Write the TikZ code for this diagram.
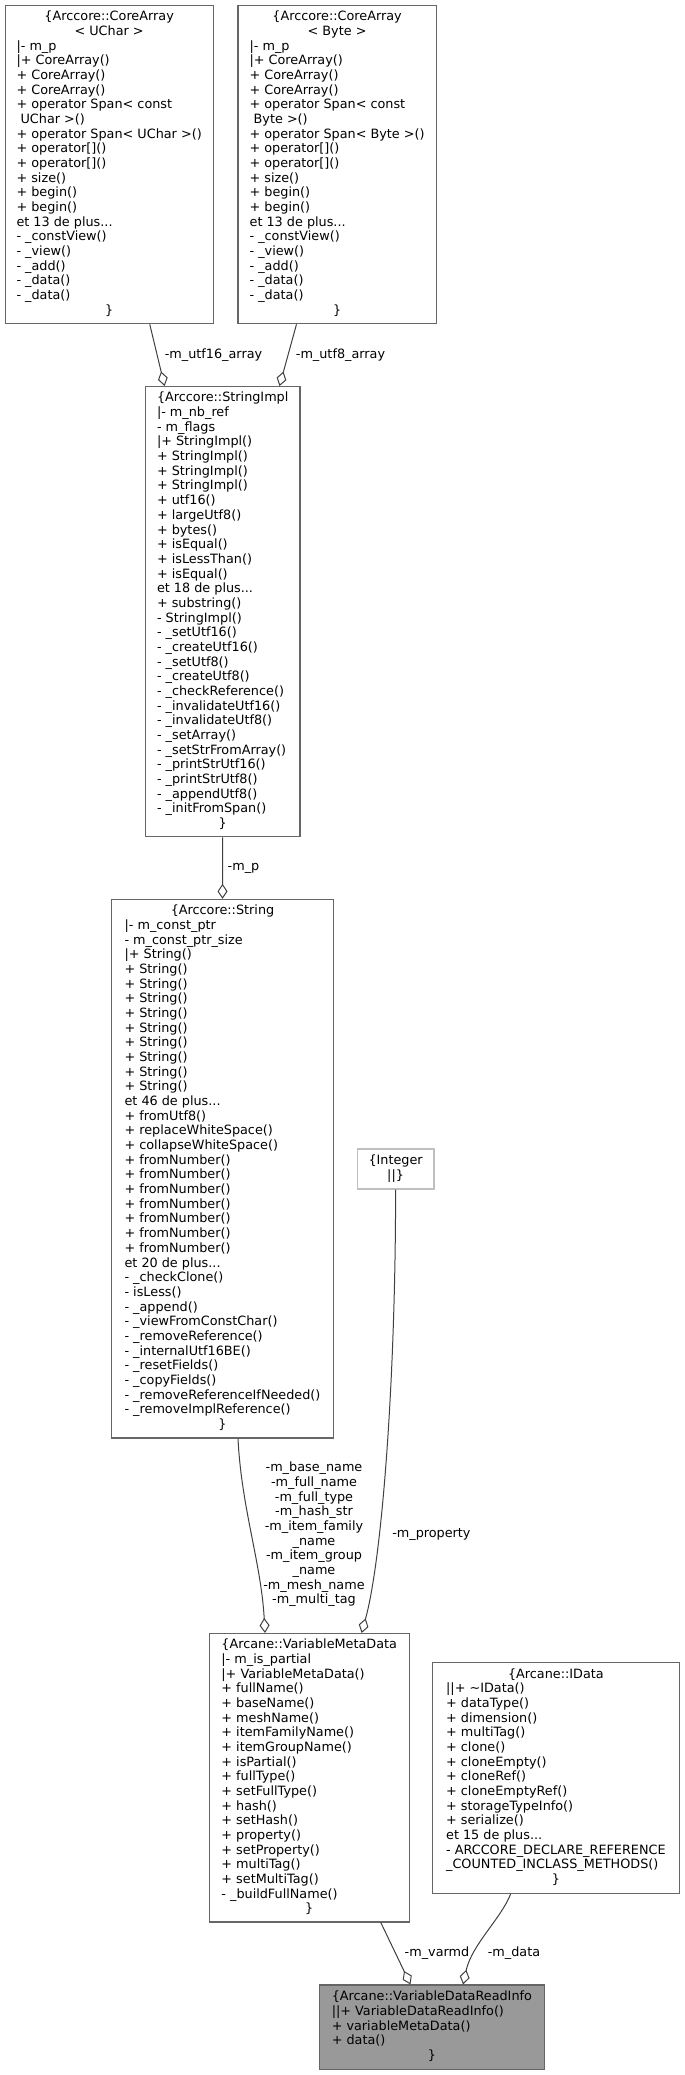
\documentclass[tikz,border=0pt]{standalone}
\usepackage{fontspec}
\setmainfont{DejaVu Sans}
\usetikzlibrary{arrows.meta,calc}
\definecolor{nodeborder}{HTML}{666666}
\definecolor{lightborder}{HTML}{BFBFBF}
\definecolor{edgecol}{HTML}{404040}
\definecolor{mainfill}{HTML}{999999}
\newcommand{\dgfont}{\fontsize{12.8pt}{14.67pt}\selectfont}
\newcommand{\ctrline}[1]{\multicolumn{1}{@{}c@{}}{#1}}
\newcommand{\classrows}[1]{\begin{tabular}{@{}l@{}}#1\end{tabular}}
\tikzset{
  classbox/.style={draw=nodeborder, line width=1.1pt, fill=white, inner sep=0pt, font=\dgfont},
  edgelabel/.style={font=\dgfont, inner sep=0pt, align=center, text=black},
  aggr/.style={draw=edgecol, line width=1pt, -{Diamond[open,length=15pt,width=10pt]}},
}
\begin{document}
\begin{tikzpicture}[x=1pt,y=-1pt]
\useasboundingbox (0,0) rectangle (685,2075);

\node[classbox, minimum width=207.9pt, minimum height=318.3pt] (ua) at (109.15,164.55) {\classrows{%
\ctrline{\{Arccore::CoreArray}\\
\ctrline{< UChar >}\\
|- m\_p\\
|+ CoreArray()\\
+ CoreArray()\\
+ CoreArray()\\
+ operator Span< const\\
\ UChar >()\\
+ operator Span< UChar >()\\
+ operator[]()\\
+ operator[]()\\
+ size()\\
+ begin()\\
+ begin()\\
et 13 de plus...\\
- \_constView()\\
- \_view()\\
- \_add()\\
- \_data()\\
- \_data()\\
\ctrline{\}}}};

\node[classbox, minimum width=198.2pt, minimum height=318.3pt] (ba) at (337.1,164.55) {\classrows{%
\ctrline{\{Arccore::CoreArray}\\
\ctrline{< Byte >}\\
|- m\_p\\
|+ CoreArray()\\
+ CoreArray()\\
+ CoreArray()\\
+ operator Span< const\\
\ Byte >()\\
+ operator Span< Byte >()\\
+ operator[]()\\
+ operator[]()\\
+ size()\\
+ begin()\\
+ begin()\\
et 13 de plus...\\
- \_constView()\\
- \_view()\\
- \_add()\\
- \_data()\\
- \_data()\\
\ctrline{\}}}};

\node[classbox, minimum width=154.6pt, minimum height=450.3pt] (si) at (222.7,611.75) {\classrows{%
\ctrline{\{Arccore::StringImpl}\\
|- m\_nb\_ref\\
- m\_flags\\
|+ StringImpl()\\
+ StringImpl()\\
+ StringImpl()\\
+ StringImpl()\\
+ utf16()\\
+ largeUtf8()\\
+ bytes()\\
+ isEqual()\\
+ isLessThan()\\
+ isEqual()\\
et 18 de plus...\\
+ substring()\\
- StringImpl()\\
- \_setUtf16()\\
- \_createUtf16()\\
- \_setUtf8()\\
- \_createUtf8()\\
- \_checkReference()\\
- \_invalidateUtf16()\\
- \_invalidateUtf8()\\
- \_setArray()\\
- \_setStrFromArray()\\
- \_printStrUtf16()\\
- \_printStrUtf8()\\
- \_appendUtf8()\\
- \_initFromSpan()\\
\ctrline{\}}}};

\node[classbox, minimum width=222.2pt, minimum height=538.6pt] (st) at (222.5,1168.7) {\classrows{%
\ctrline{\{Arccore::String}\\
|- m\_const\_ptr\\
- m\_const\_ptr\_size\\
|+ String()\\
+ String()\\
+ String()\\
+ String()\\
+ String()\\
+ String()\\
+ String()\\
+ String()\\
+ String()\\
+ String()\\
et 46 de plus...\\
+ fromUtf8()\\
+ replaceWhiteSpace()\\
+ collapseWhiteSpace()\\
+ fromNumber()\\
+ fromNumber()\\
+ fromNumber()\\
+ fromNumber()\\
+ fromNumber()\\
+ fromNumber()\\
+ fromNumber()\\
et 20 de plus...\\
- \_checkClone()\\
- isLess()\\
- \_append()\\
- \_viewFromConstChar()\\
- \_removeReference()\\
- \_internalUtf16BE()\\
- \_resetFields()\\
- \_copyFields()\\
- \_removeReferenceIfNeeded()\\
- \_removeImplReference()\\
\ctrline{\}}}};

\node[classbox, draw=lightborder, minimum width=76.8pt, minimum height=40pt] (in) at (395.6,1169) {\classrows{%
\ctrline{\{Integer}\\
\ctrline{||\}}}};

\node[classbox, minimum width=200pt, minimum height=288.5pt] (vmd) at (309.2,1777.75) {\classrows{%
\ctrline{\{Arcane::VariableMetaData}\\
|- m\_is\_partial\\
|+ VariableMetaData()\\
+ fullName()\\
+ baseName()\\
+ meshName()\\
+ itemFamilyName()\\
+ itemGroupName()\\
+ isPartial()\\
+ fullType()\\
+ setFullType()\\
+ hash()\\
+ setHash()\\
+ property()\\
+ setProperty()\\
+ multiTag()\\
+ setMultiTag()\\
- \_buildFullName()\\
\ctrline{\}}}};

\node[classbox, minimum width=247.2pt, minimum height=230.9pt] (id) at (555.9,1777.85) {\classrows{%
\ctrline{\{Arcane::IData}\\
||+ \textasciitilde IData()\\
+ dataType()\\
+ dimension()\\
+ multiTag()\\
+ clone()\\
+ cloneEmpty()\\
+ cloneRef()\\
+ cloneEmptyRef()\\
+ storageTypeInfo()\\
+ serialize()\\
et 15 de plus...\\
- ARCCORE\_DECLARE\_REFERENCE\\
\_COUNTED\_INCLASS\_METHODS()\\
\ctrline{\}}}};

\node[classbox, fill=mainfill, minimum width=225.3pt, minimum height=84.3pt] (vdri) at (431.85,2027.15) {\classrows{%
\ctrline{\{Arcane::VariableDataReadInfo}\\
||+ VariableDataReadInfo()\\
+ variableMetaData()\\
+ data()\\
\ctrline{\}}}};

% connectors
\draw[aggr] ($(ua.south)+(40.6,0)$) -- ($(si.north)+(-58.1,0)$);
\draw[aggr] ($(ba.south)+(-40.6,0)$) -- ($(si.north)+(56.8,0)$);
\draw[aggr] (si.south) -- (st.north);
\draw[aggr] ($(st.south)+(15.5,0)$) .. controls ($(st.south)+(19,70)$) and ($(vmd.north)+(-48,-70)$) .. ($(vmd.north)+(-44.2,0)$);
\draw[aggr] (in.south) .. controls ($(in.south)+(0,191)$) and ($(vmd.north)+(72.8,-73.5)$) .. ($(vmd.north)+(52.4,0)$);
\draw[aggr] ($(vmd.south)+(71.6,0)$) -- ($(vdri.north)+(-21.35,0)$);
\draw[aggr] ($(id.south)+(-45.2,0)$) .. controls ($(id.south)+(-55,25)$) and ($(vdri.north)+(40,-40)$) .. ($(vdri.north)+(31.2,0)$);

% labels
\node[edgelabel] (l1) at (213.5,355) {-m\_utf16\_array};
\node[edgelabel] (l2) at (340.5,355) {-m\_utf8\_array};
\node[edgelabel] (l3) at (243.5,868) {-m\_p};
\node[edgelabel] (l4) at (314,1534.5) {-m\_base\_name\\-m\_full\_name\\-m\_full\_type\\-m\_hash\_str\\-m\_item\_family\\\_name\\-m\_item\_group\\\_name\\-m\_mesh\_name\\-m\_multi\_tag};
\node[edgelabel] (l5) at (431.4,1534) {-m\_property};
\node[edgelabel] (l6) at (437,1952.7) {-m\_varmd};
\node[edgelabel] (l7) at (514,1952.7) {-m\_data};
\end{tikzpicture}
\end{document}
